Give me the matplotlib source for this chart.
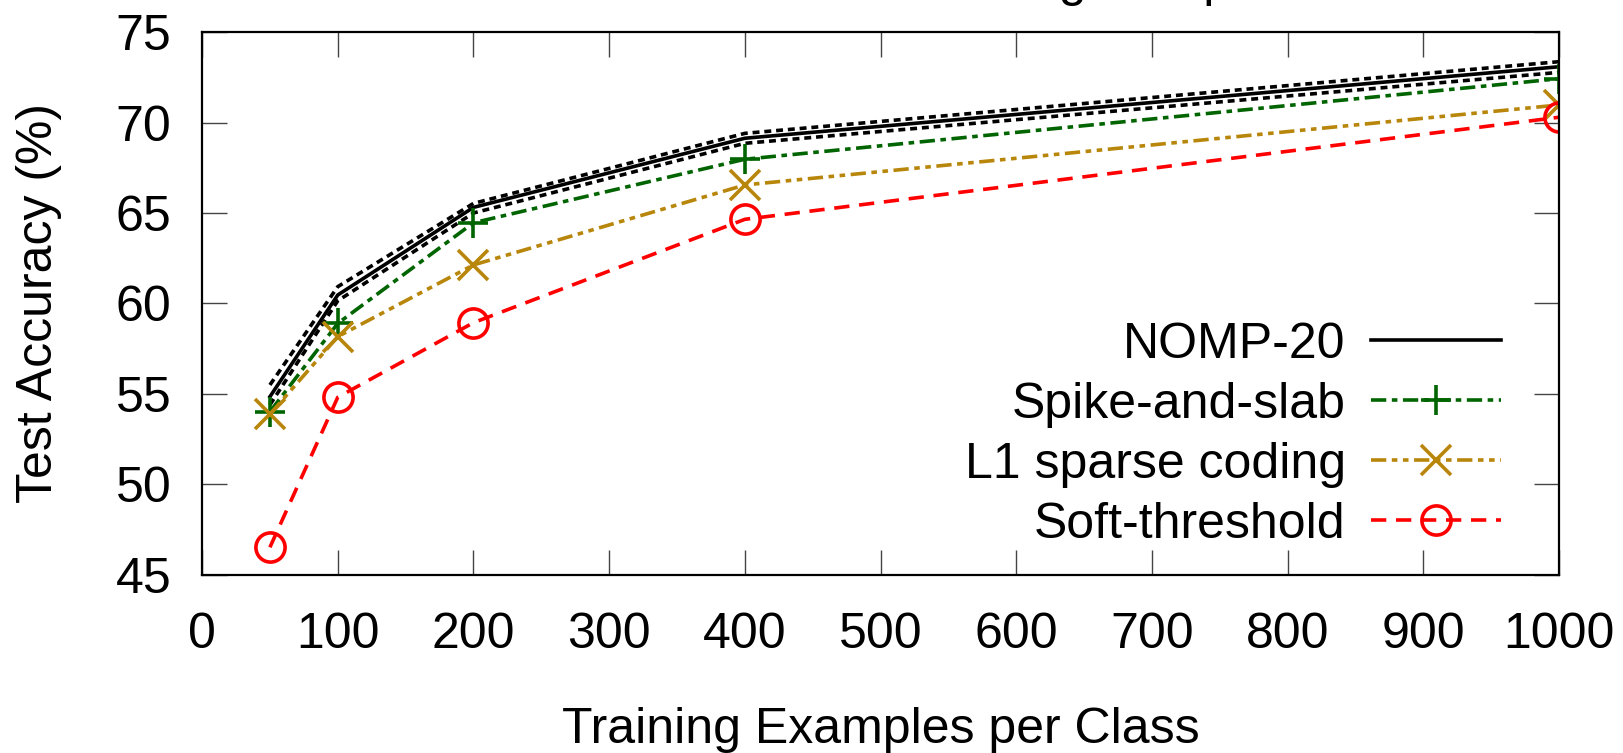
import matplotlib
matplotlib.use('Agg')
import matplotlib.pyplot as plt

plt.rcParams['font.family'] = ['Liberation Sans', 'DejaVu Sans']
plt.rcParams['lines.scale_dashes'] = False

"""
accuracy vs number of training examples
"""

examples = [50, 100, 200, 400, 1000]
nomp = [54.85, 60.47, 65.31, 69.13, 73.08]
nomp_hi = [55.5, 60.93, 65.53, 69.4, 73.36]
nomp_lo = [54.4, 60.15, 65.0, 68.85, 72.77]
spike_slab = [54.02, 58.9, 64.46, 67.97, 72.42]
l1_sparse = [53.88, 58.17, 62.13, 66.55, 70.97]
soft_thresh = [46.53, 54.82, 58.94, 64.65, 70.29]

xticks = list(range(0, 1001, 100))
yticks = list(range(45, 76, 5))

fs = 36

fig = plt.figure(figsize=(16.23, 7.53), dpi=100)
ax = fig.add_axes([0.1245, 0.2364, 0.9606 - 0.1245, 0.9575 - 0.2364])

# std band of NOMP (not in legend)
ax.plot(examples, nomp_hi, color='black', lw=2.6, dashes=(5, 3.5))
ax.plot(examples, nomp_lo, color='black', lw=2.6, dashes=(5, 3.5))

ax.plot(examples, nomp, color='black', lw=2.6, label='NOMP-20')
ax.plot(examples, spike_slab, color='#006400', lw=2.6, dashes=(11, 4, 4, 4),
        marker='+', ms=22, mew=2.6, label='Spike-and-slab')
ax.plot(examples, l1_sparse, color='#b8860b', lw=2.6, dashes=(11, 4, 4, 4, 4, 4),
        marker='x', ms=22, mew=2.6, label='L1 sparse coding')
ax.plot(examples, soft_thresh, color='#ff0000', lw=2.6, dashes=(11, 7),
        marker='o', ms=21, mew=2.6, mfc='none', label='Soft-threshold')

ax.set_xlim(0, 1000)
ax.set_ylim(45, 75)
ax.set_xticks(xticks)
ax.set_yticks(yticks)
ax.tick_params(direction='in', length=18, width=1, top=True, right=True,
               labelsize=fs, color='#444444')
ax.tick_params(axis='x', pad=27)
ax.tick_params(axis='y', pad=22)
for sp in ax.spines.values():
    sp.set_linewidth(1.6)

ax.set_xlabel('Training Examples per Class', fontsize=fs, labelpad=35)
ax.set_ylabel('Test Accuracy (%)', fontsize=fs, labelpad=39)

ax.legend(loc='lower right', bbox_to_anchor=(0.957, 0.05), frameon=False,
          markerfirst=False, fontsize=fs, handlelength=2.6, handletextpad=0.5,
          labelspacing=0.28, borderpad=0, borderaxespad=0)

# title is mostly cut off at the top edge
fig.text(0.798, 1.005, 'CIFAR-10 with Limited Training Samples', fontsize=fs,
         ha='right', va='baseline')

fig.savefig('out.png', dpi=100)
